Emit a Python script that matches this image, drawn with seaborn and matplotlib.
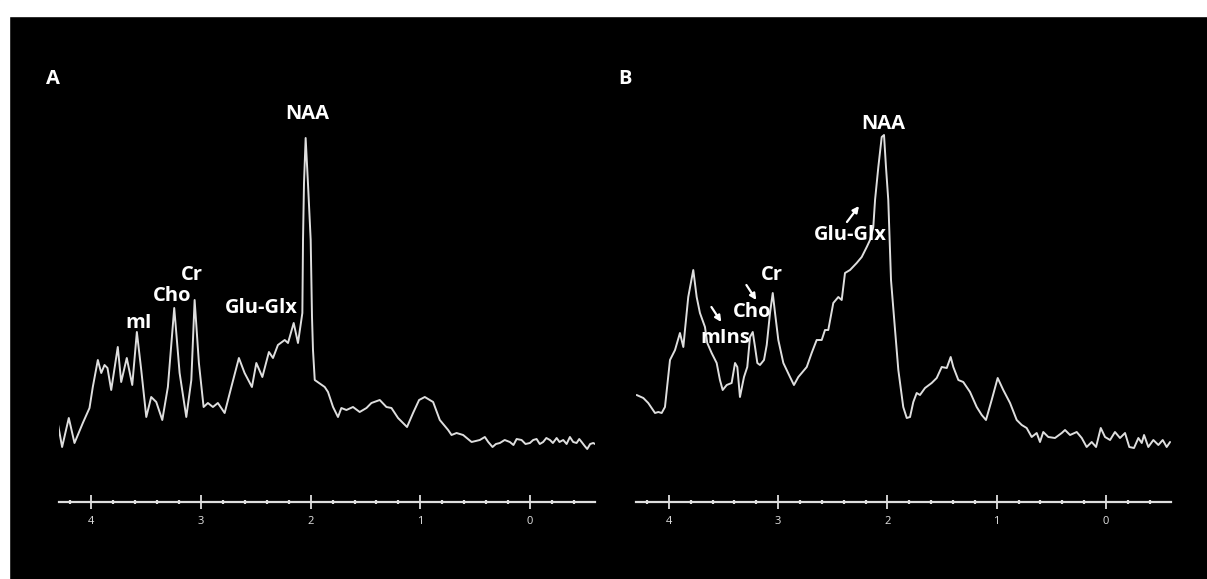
import numpy as np
import pandas as pd
import seaborn as sns
import matplotlib.pyplot as plt
from matplotlib.patches import Rectangle
from matplotlib.ticker import FixedLocator, MultipleLocator

sns.set_theme(style='ticks')
plt.rcParams['font.family'] = ['Open Sans', 'DejaVu Sans']

# ========== 数据：化学位移 (ppm) 与信号强度 (任意单位) ==========
ppm_a = [4.308, 4.268, 4.207, 4.155, 4.079, 4.018, 3.988, 3.942, 3.911, 3.881,
         3.854, 3.820, 3.760, 3.729, 3.678, 3.628, 3.586, 3.546, 3.500, 3.455,
         3.409, 3.354, 3.303, 3.245, 3.196, 3.135, 3.089, 3.059, 3.020, 2.977,
         2.938, 2.892, 2.847, 2.785, 2.724, 2.655, 2.603, 2.536, 2.496, 2.441,
         2.381, 2.344, 2.299, 2.237, 2.207, 2.155, 2.116, 2.076, 2.070, 2.061,
         2.046, 2.025, 2.000, 1.988, 1.979, 1.963, 1.872, 1.842, 1.796, 1.751,
         1.720, 1.674, 1.614, 1.553, 1.491, 1.446, 1.370, 1.309, 1.263, 1.203,
         1.121, 1.066, 1.011, 0.959, 0.883, 0.822, 0.746, 0.715, 0.669, 0.609,
         0.532, 0.457, 0.411, 0.380, 0.341, 0.310, 0.274, 0.230, 0.183, 0.150,
         0.121, 0.076, 0.040, 0.000, -0.030, -0.061, -0.090, -0.121, -0.150,
         -0.183, -0.210, -0.244, -0.270, -0.304, -0.335, -0.365, -0.395, -0.426,
         -0.450, -0.472, -0.500, -0.523, -0.550, -0.578, -0.594]
int_a = [79, 55, 84, 59, 79, 94, 115, 142, 129, 137,
         134, 112, 155, 120, 144, 117, 170, 132, 85, 105,
         100, 82, 115, 194, 129, 85, 122, 202, 139, 95,
         99, 95, 99, 89, 115, 144, 129, 115, 139, 125,
         150, 144, 157, 162, 159, 179, 159, 189, 262, 319,
         364, 319, 262, 185, 152, 122, 115, 110, 95, 85,
         94, 92, 95, 90, 94, 99, 102, 95, 94, 84,
         75, 89, 102, 105, 100, 82, 72, 67, 69, 67,
         60, 62, 65, 60, 55, 58, 59, 62, 60, 57,
         63, 62, 58, 59, 62, 63, 58, 60, 64,
         62, 59, 64, 60, 62, 58, 65, 60, 59,
         63, 60, 56, 53, 58, 59, 58]

ppm_b = [4.294, 4.233, 4.188, 4.126, 4.096, 4.065, 4.035, 3.989, 3.943, 3.898,
         3.867, 3.852, 3.822, 3.776, 3.745, 3.715, 3.669, 3.648, 3.608, 3.562,
         3.532, 3.507, 3.470, 3.425, 3.394, 3.373, 3.349, 3.312, 3.282, 3.257,
         3.232, 3.211, 3.190, 3.166, 3.129, 3.104, 3.074, 3.049, 3.028, 2.998,
         2.952, 2.891, 2.855, 2.815, 2.784, 2.738, 2.693, 2.647, 2.601, 2.571,
         2.541, 2.495, 2.449, 2.418, 2.388, 2.342, 2.281, 2.235, 2.189, 2.159,
         2.129, 2.113, 2.083, 2.052, 2.031, 2.013, 1.992, 1.967, 1.930, 1.900,
         1.855, 1.823, 1.793, 1.763, 1.732, 1.702, 1.656, 1.595, 1.549, 1.503,
         1.457, 1.421, 1.397, 1.351, 1.306, 1.244, 1.183, 1.137, 1.098, 1.046,
         0.991, 0.940, 0.878, 0.817, 0.771, 0.726, 0.680, 0.634, 0.604, 0.574,
         0.528, 0.467, 0.405, 0.375, 0.329, 0.268, 0.222, 0.177, 0.131, 0.091,
         0.048, 0.009, -0.037, -0.082, -0.128, -0.174, -0.213, -0.256, -0.296,
         -0.327, -0.348, -0.387, -0.433, -0.479, -0.519, -0.555, -0.586]
int_b = [107, 104, 99, 89, 90, 89, 95, 142, 152, 169,
         155, 172, 205, 232, 205, 189, 175, 159, 149, 139,
         122, 112, 117, 119, 139, 135, 105, 125, 135, 165,
         170, 155, 139, 137, 142, 157, 189, 209, 189, 162,
         139, 125, 117, 125, 129, 135, 149, 162, 162, 172,
         172, 199, 205, 202, 229, 232, 239, 245, 255, 262,
         275, 302, 335, 365, 367, 335, 302, 222, 172, 132,
         95, 84, 85, 100, 109, 107, 114, 119, 124, 135,
         134, 145, 135, 122, 120, 110, 95, 87, 82, 102,
         124, 112, 99, 82, 77, 74, 65, 69, 60, 70,
         65, 64, 69, 72, 67, 70, 64, 55, 60, 55,
         74, 65, 62, 70, 64, 69, 55, 54, 64,
         59, 67, 55, 62, 57, 62, 55, 60]

major_ticks = [4, 3, 2, 1, 0]
tick_labels = ['4', '3', '2', '1', '0']

# 峰标注：(文字, ppm, 强度)
labels_a = [('NAA', 2.03, 388), ('mI', 3.57, 179), ('Cho', 3.26, 206),
            ('Cr', 3.08, 227), ('Glu-Glx', 2.45, 194)]
labels_b = [('NAA', 2.04, 378), ('Glu-Glx', 2.34, 267), ('Cr', 3.06, 227),
            ('Cho', 3.24, 190), ('mIns', 3.48, 164)]
arrows_b = [((2.37, 280), (2.26, 296)), ((3.29, 217), (3.20, 202)),
            ((3.61, 195), (3.52, 180))]

LINE = '#dedede'
W, H = 1207, 579

fig = plt.figure(figsize=(W / 100, H / 100), dpi=100)
fig.patch.set_facecolor('black')
# 白色边缘（上、左）
fig.add_artist(Rectangle((0, 1 - 16 / H), 1, 16 / H, transform=fig.transFigure,
                         color='white', zorder=0))
fig.add_artist(Rectangle((0, 0), 9 / W, 1, transform=fig.transFigure,
                         color='white', zorder=0))

ax_a = fig.add_axes([58.6 / W, (H - 502) / H, 536.4 / W, 402 / H])
ax_b = fig.add_axes([636 / W, (H - 502) / H, 534.5 / W, 402 / H])


def draw_panel(ax, ppm, inten, labels, xlim):
    df = pd.DataFrame({'ppm': ppm, 'intensity': inten})
    sns.lineplot(data=df, x='ppm', y='intensity', ax=ax, sort=False,
                 estimator=None, color=LINE, linewidth=1.4)
    ax.set_xlim(*xlim)
    ax.set_ylim(0, 402)
    ax.set_facecolor('none')
    for s in ['top', 'right', 'left']:
        ax.spines[s].set_visible(False)
    ax.spines['bottom'].set_color(LINE)
    ax.spines['bottom'].set_linewidth(1.6)
    ax.set_yticks([])
    ax.xaxis.set_major_locator(FixedLocator(major_ticks))
    ax.set_xticklabels(tick_labels)
    ax.xaxis.set_minor_locator(MultipleLocator(0.2))
    ax.tick_params(axis='x', which='major', direction='inout', length=10,
                   width=1.3, color=LINE, labelcolor='#e2e2e2', labelsize=8,
                   pad=5)
    ax.tick_params(axis='x', which='minor', direction='inout', length=3.5,
                   width=1.6, color=LINE)
    ax.set_xlabel('')
    ax.set_ylabel('')
    for txt, x, y in labels:
        ax.text(x, y, txt, color='white', fontsize=14.5, fontweight='bold',
                ha='center', va='center')


draw_panel(ax_a, ppm_a, int_a, labels_a, (4.3, -0.594))
draw_panel(ax_b, ppm_b, int_b, labels_b, (4.3, -0.59))

for start, end in arrows_b:
    ax_b.annotate('', xy=end, xytext=start,
                  arrowprops=dict(arrowstyle='-|>', color='white', lw=1.6,
                                  mutation_scale=9, shrinkA=0, shrinkB=0))

fig.text(53.3 / W, 1 - 79 / H, 'A', color='white', fontsize=14.5,
         fontweight='bold', ha='center', va='center')
fig.text(625 / W, 1 - 79 / H, 'B', color='white', fontsize=14.5,
         fontweight='bold', ha='center', va='center')

fig.savefig('out.png', dpi=100, facecolor=fig.get_facecolor())
